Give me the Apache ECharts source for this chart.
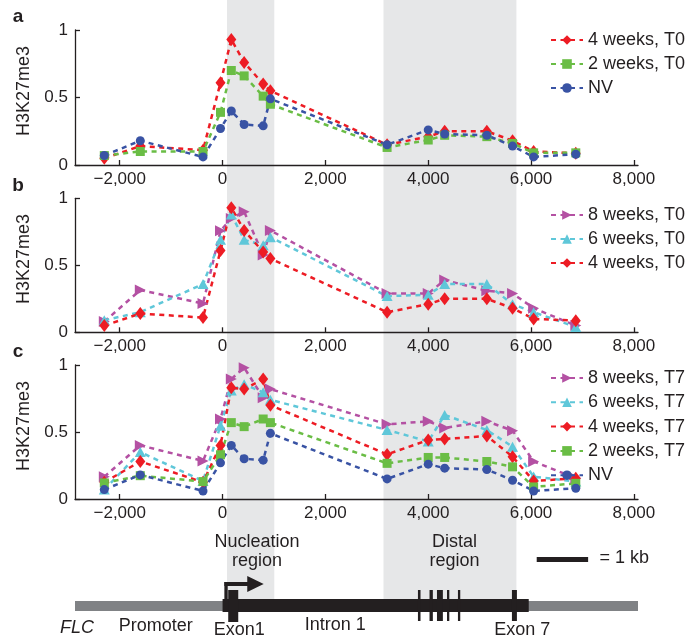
<!DOCTYPE html>
<html><head><meta charset="utf-8">
<script src="https://cdn.jsdelivr.net/npm/echarts@6/dist/echarts.min.js"></script>
<style>html,body{margin:0;padding:0;background:#fff}#c{width:698px;height:638px}</style>
</head><body><div id="c"></div>
<script>
// ---- data ----
const positions = [-2300, -1600, -380, -40, 170, 420, 790, 930, 3200, 4000, 4320, 5140, 5640, 6050, 6870];
const xTicks = [-2000, 0, 2000, 4000, 6000, 8000];
const yTicks = [0, 0.5, 1];
const nv    = [0.07, 0.18, 0.06, 0.27, 0.40, 0.30, 0.29, 0.49, 0.15, 0.26, 0.23, 0.22, 0.14, 0.06, 0.08];
const w2t0  = [0.07, 0.10, 0.10, 0.39, 0.70, 0.66, 0.51, 0.45, 0.13, 0.185, 0.22, 0.21, 0.16, 0.09, 0.09];
const w4t0  = [0.05, 0.14, 0.11, 0.61, 0.93, 0.76, 0.60, 0.55, 0.15, 0.21, 0.25, 0.25, 0.18, 0.10, 0.087];
const w6t0  = [0.09, 0.15, 0.36, 0.69, 0.88, 0.69, 0.65, 0.71, 0.27, 0.28, 0.36, 0.36, 0.21, 0.15, 0.04];
const w8t0  = [0.08, 0.315, 0.215, 0.757, 0.85, 0.90, 0.577, 0.76, 0.29, 0.29, 0.39, 0.31, 0.29, 0.18, 0.05];
const w2t7  = [0.12, 0.174, 0.13, 0.33, 0.57, 0.54, 0.597, 0.57, 0.266, 0.31, 0.31, 0.28, 0.24, 0.09, 0.117];
const w4t7  = [0.125, 0.28, 0.125, 0.40, 0.83, 0.82, 0.895, 0.70, 0.333, 0.44, 0.448, 0.47, 0.316, 0.134, 0.155];
const w6t7  = [0.07, 0.35, 0.134, 0.547, 0.81, 0.856, 0.796, 0.74, 0.515, 0.43, 0.627, 0.515, 0.39, 0.167, 0.13];
const w8t7  = [0.166, 0.40, 0.284, 0.597, 0.895, 0.98, 0.756, 0.82, 0.557, 0.58, 0.53, 0.58, 0.51, 0.28, 0.155];
const nucleationRegion = [86, 1006];
const distalRegion = [3130, 5715];

// ---- styles ----
const INK = '#231f20';
const FONT = '"Liberation Sans", Arial, Helvetica, sans-serif';
const S = {
  red:    {color:'#ed1c24', symbol:'diamond', size:[10,13]},
  green:  {color:'#6abd45', symbol:'rect', size:9},
  blue:   {color:'#3953a4', symbol:'circle', size:9},
  purple: {color:'#b451a3', symbol:'path://M0,0L10,5L0,10Z', size:[11,11]},
  cyan:   {color:'#5fc7d9', symbol:'triangle', size:[11,10]}
};
const panels = [
  {letter:'a', top:30, height:135, legendTop:26, gap:6,
   series:[['4 weeks, T0', w4t0, 'red'], ['2 weeks, T0', w2t0, 'green'], ['NV', nv, 'blue']]},
  {letter:'b', top:198.3, height:134, legendTop:201, gap:6,
   series:[['8 weeks, T0', w8t0, 'purple'], ['6 weeks, T0', w6t0, 'cyan'], ['4 weeks, T0', w4t0, 'red']]},
  {letter:'c', top:365, height:134, legendTop:364, gap:6.3,
   series:[['8 weeks, T7', w8t7, 'purple'], ['6 weeks, T7', w6t7, 'cyan'], ['4 weeks, T7', w4t7, 'red'], ['2 weeks, T7', w2t7, 'green'], ['NV', nv, 'blue']]}
];
const XMIN = -2870, XMAX = 8080;
const fmtX = v => (v < 0 ? '\u2212' : '') + Math.abs(v).toLocaleString('en-US');

const chart = echarts.init(document.getElementById('c'), null, {renderer:'canvas'});
const grid = [], xAxis = [], yAxis = [], series = [], legend = [];
panels.forEach((p, i) => {
  grid.push({left:75, width:563, top:p.top, height:p.height, containLabel:false});
  xAxis.push({type:'value', gridIndex:i, min:XMIN, max:XMAX,
    axisLine:{show:true, onZero:false, lineStyle:{color:INK, width:1.3}},
    axisTick:{show:true, inside:true, length:5, customValues:xTicks, lineStyle:{color:INK, width:1.3}},
    axisLabel:{customValues:xTicks, formatter:fmtX, color:INK, fontSize:17, fontFamily:FONT, margin:6},
    splitLine:{show:false}});
  yAxis.push({type:'value', gridIndex:i, min:0, max:1, interval:0.5,
    axisLine:{show:true, onZero:false, lineStyle:{color:INK, width:1.3}},
    axisTick:{show:true, inside:true, length:5, customValues:yTicks, lineStyle:{color:INK, width:1.3}},
    axisLabel:{customValues:yTicks, formatter:v => String(v), color:INK, fontSize:17, fontFamily:FONT, margin:7},
    splitLine:{show:false}});
  p.series.forEach(([name, vals, key]) => {
    const st = S[key];
    series.push({type:'line', name, xAxisIndex:i, yAxisIndex:i,
      data: positions.map((x, j) => [x, vals[j]]),
      symbol: st.symbol, symbolSize: st.size, showAllSymbol:true,
      lineStyle:{color:st.color, width:2.5, type:[5,4.5]},
      itemStyle:{color:st.color}, emphasis:{disabled:true}, silent:true, animation:false});
  });
  legend.push({data:p.series.map(s => s[0]), orient:'vertical', left:545, top:p.legendTop,
    itemWidth:32, itemHeight:12, itemGap:p.gap, selectedMode:false,
    textStyle:{color:INK, fontSize:18, fontFamily:FONT, padding:[0,0,0,0]}});
});

chart.setOption({backgroundColor:'#fff', animation:false, grid, xAxis, yAxis, series, legend});

const X = v => chart.convertToPixel({xAxisIndex:0}, v);
const rect = (x0, x1, y0, y1, fill, z) => ({type:'rect', z:z || 0, silent:true,
  shape:{x:X(x0), y:y0, width:X(x1) - X(x0), height:y1 - y0}, style:{fill}});
const txt = (t, x, y, opt) => Object.assign({type:'text', silent:true, x, y,
  style:Object.assign({text:t, fill:INK, font:'18px ' + FONT, textAlign:'center', textVerticalAlign:'middle'}, (opt && opt.style) || {})},
  opt && opt.el || {});

const g = [];
// shaded regions spanning all panels down to the gene model
g.push(rect(nucleationRegion[0], nucleationRegion[1], 0, 600, '#e6e7e8', -10));
g.push(rect(distalRegion[0], distalRegion[1], 0, 600, '#e6e7e8', -10));
// panel letters and y titles
const letterY = [17, 186, 352];
const titleY = [91, 259, 426];
panels.forEach((p, i) => {
  g.push(txt(p.letter, 18, letterY[i], {style:{font:'bold 19px ' + FONT}}));
  g.push(txt('H3K27me3', 24, titleY[i], {el:{rotation:Math.PI / 2}}));
});
// gene model
g.push(rect(XMIN, XMAX, 601, 611, '#808285'));
g.push(rect(0, 5955, 599, 612, INK));
g.push(rect(110, 305, 590, 622, INK));
g.push(rect(35, 100, 582, 600, INK));
g.push(rect(35, 520, 582, 586, INK));
g.push({type:'polygon', silent:true, shape:{points:[[X(480), 576], [X(800), 584], [X(480), 592]]}, style:{fill:INK}});
[[3800, 3850], [4025, 4090], [4170, 4285], [4365, 4410], [4578, 4623], [5628, 5725]].forEach(([a, b]) => g.push(rect(a, b, 590, 621, INK)));
// scale bar
g.push(rect(6110, 7110, 557, 562, INK));
g.push(txt('= 1 kb', X(7330), 558, {style:{textAlign:'left'}}));
// labels
g.push(txt('Nucleation', X(670), 542));
g.push(txt('region', X(670), 561));
g.push(txt('Distal', X(4510), 542));
g.push(txt('region', X(4510), 561));
g.push(txt('FLC', 77, 628, {style:{font:'italic 18px ' + FONT}}));
g.push(txt('Promoter', X(-1300), 626));
g.push(txt('Exon1', X(325), 630));
g.push(txt('Intron 1', X(2190), 625));
g.push(txt('Exon 7', X(5830), 630));

chart.setOption({graphic:{elements:g}});
</script></body></html>
